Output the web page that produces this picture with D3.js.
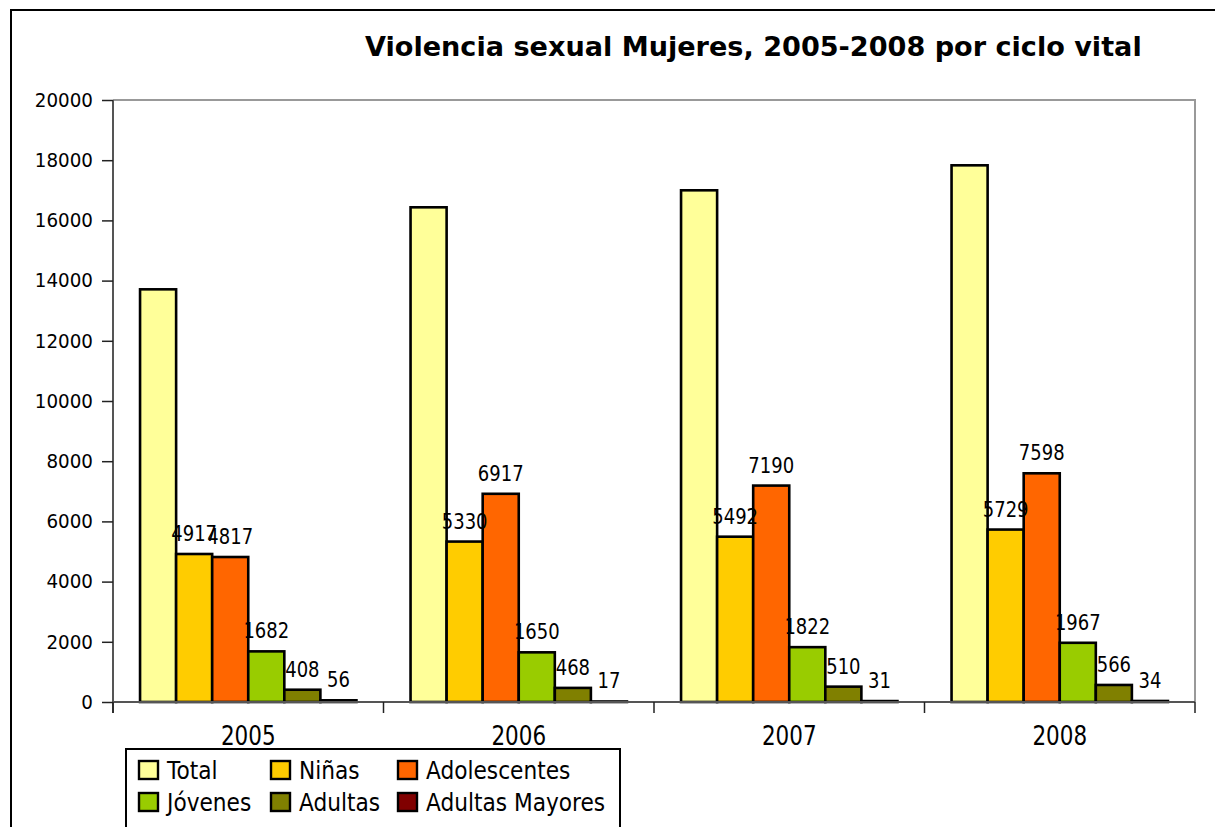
<!DOCTYPE html>
<html>
<head>
<meta charset="utf-8">
<script src="https://cdn.jsdelivr.net/npm/d3@7"></script>
<style>
  html, body { margin: 0; padding: 0; background: #fff; }
  svg { display: block; font-family: "DejaVu Sans", sans-serif; }
</style>
</head>
<body>
<svg id="chart" width="1215" height="827"></svg>
<script>
const title = "Violencia sexual Mujeres, 2005-2008 por ciclo vital";
const years = ["2005", "2006", "2007", "2008"];
const seriesNames = ["Total", "Niñas", "Adolescentes", "Jóvenes", "Adultas", "Adultas Mayores"];
const seriesColors = ["#FFFF99", "#FFCC00", "#FF6600", "#99CC00", "#808000", "#800000"];
const total = [13710, 16435, 17000, 17830];
const ninas = [4917, 5330, 5492, 5729];
const adolescentes = [4817, 6917, 7190, 7598];
const jovenes = [1682, 1650, 1822, 1967];
const adultas = [408, 468, 510, 566];
const adultasMayores = [56, 17, 31, 34];
const labelledSeries = [false, true, true, true, true, true];
const yTicks = [0, 2000, 4000, 6000, 8000, 10000, 12000, 14000, 16000, 18000, 20000];

const seriesValues = [total, ninas, adolescentes, jovenes, adultas, adultasMayores];

const svg = d3.select("#chart");

// outer frame
svg.append("rect").attr("x", 11).attr("y", 10).attr("width", 1400).attr("height", 1000)
  .attr("fill", "#fff").attr("stroke", "#000").attr("stroke-width", 2);

const plotL = 113, plotR = 1195, plotT = 100, plotB = 702;

const x = d3.scaleBand().domain(years).range([plotL, plotR]).padding(0);
const xs = d3.scaleBand().domain(seriesNames).range([0, x.bandwidth()])
  .paddingInner(0).paddingOuter(0.75);
const y = d3.scaleLinear().domain([0, 20000]).range([plotB, plotT]);

// plot area border (top, right)
svg.append("path")
  .attr("d", `M${plotL},${plotT}H${plotR}V${plotB}`)
  .attr("fill", "none").attr("stroke", "#999").attr("stroke-width", 2);

// title
svg.append("text").attr("x", 365).attr("y", 56)
  .attr("font-size", 27.1).attr("font-weight", "bold").attr("fill", "#000")
  .text(title);

// bars
const bars = [];
years.forEach((yr, i) => {
  seriesNames.forEach((s, j) => {
    bars.push({ year: yr, series: s, value: seriesValues[j][i], color: seriesColors[j], label: labelledSeries[j] });
  });
});

svg.append("g").selectAll("rect").data(bars).join("rect")
  .attr("x", d => x(d.year) + xs(d.series))
  .attr("y", d => y(d.value))
  .attr("width", xs.bandwidth())
  .attr("height", d => y(0) - y(d.value))
  .attr("fill", d => d.color)
  .attr("stroke", "#000").attr("stroke-width", 2.6);

// data labels
const lblS = 1.13;
svg.append("g").selectAll("g").data(bars.filter(d => d.label)).join("g")
  .attr("transform", d => `translate(${x(d.year) + xs(d.series) + xs.bandwidth() / 2},${y(d.value) - 13}) scale(1,${lblS})`)
  .append("text")
  .attr("text-anchor", "middle").attr("font-size", 18).attr("fill", "#000")
  .text(d => d.value);

// y axis
const yAxis = svg.append("g").attr("transform", `translate(${plotL},0)`)
  .call(d3.axisLeft(y).tickValues(yTicks).tickSize(11).tickPadding(9).tickFormat(d => String(d)));
yAxis.select(".domain").attr("stroke", "#555").attr("stroke-width", 2)
  .attr("d", `M0,${plotT}V${plotB + 11}`);
yAxis.selectAll(".tick line").attr("stroke", "#222").attr("stroke-width", 1.5);
yAxis.selectAll(".tick text").attr("font-size", 18.3).attr("font-family", "DejaVu Sans")
  .attr("fill", "#000").attr("dy", "0.33em").attr("transform", "scale(1,1.05)");

// x axis
const xAxis = svg.append("g").attr("transform", `translate(0,${plotB})`)
  .call(d3.axisBottom(x).tickSize(0).tickPadding(0));
xAxis.select(".domain").attr("stroke", "#555").attr("stroke-width", 2)
  .attr("d", `M${plotL},0H${plotR}`);
const catS = 1.22;
xAxis.selectAll(".tick text").attr("font-size", 21.5).attr("font-family", "DejaVu Sans")
  .attr("fill", "#000").attr("y", 43.5 / catS).attr("dy", 0)
  .attr("transform", `scale(1,${catS})`);
// category boundary ticks
const bounds = years.map(d => x(d)).concat([x(years[years.length - 1]) + x.bandwidth()]);
xAxis.selectAll("line.bound").data(bounds).join("line").attr("class", "bound")
  .attr("x1", d => d).attr("x2", d => d).attr("y1", 0).attr("y2", 11)
  .attr("stroke", "#222").attr("stroke-width", 1.5);

// legend
const legend = svg.append("g");
legend.append("rect").attr("x", 126).attr("y", 749).attr("width", 494).attr("height", 200)
  .attr("fill", "#fff").attr("stroke", "#000").attr("stroke-width", 2);
const colX = [139, 271, 398];
const rowY = [761, 793];
const legS = 1.1;
seriesNames.forEach((s, j) => {
  const cx = colX[j % 3], ry = rowY[Math.floor(j / 3)];
  legend.append("rect").attr("x", cx).attr("y", ry).attr("width", 19).attr("height", 18)
    .attr("fill", seriesColors[j]).attr("stroke", "#000").attr("stroke-width", 2.4);
  legend.append("g").attr("transform", `translate(${cx + 28},${ry + 17.5}) scale(1,${legS})`)
    .append("text").attr("font-size", 21.7).attr("fill", "#000").text(s);
});
</script>
</body>
</html>
